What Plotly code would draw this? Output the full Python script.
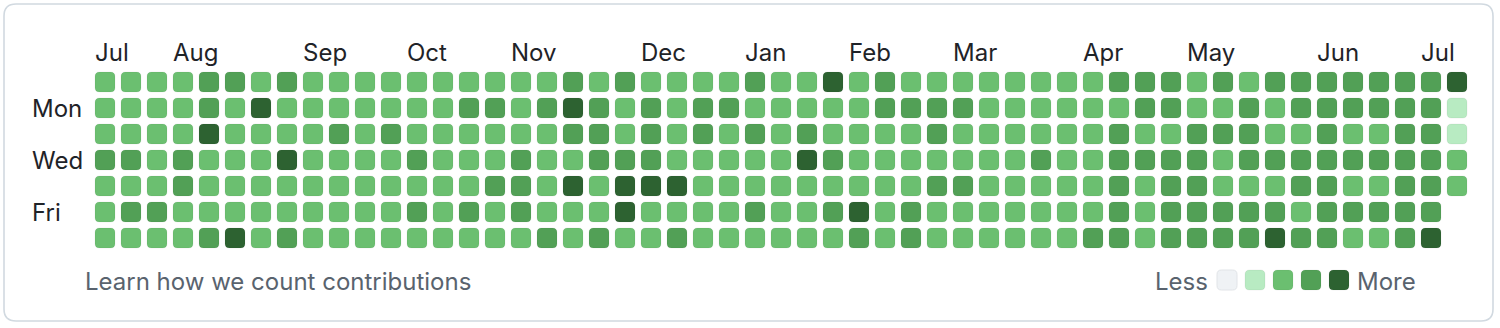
import plotly.graph_objects as go

# ---------------- data ----------------
months = ["Jul", "Aug", "Sep", "Oct", "Nov", "Dec", "Jan", "Feb", "Mar", "Apr", "May", "Jun", "Jul"]
month_weeks = [0, 3, 8, 12, 16, 21, 25, 29, 33, 38, 42, 47, 51]
day_labels = ["Mon", "Wed", "Fri"]
day_rows = [1, 3, 5]

# contribution level (0-4) per week, one list per weekday (Sun..Sat)
sun = [2,2,2,2,3,3,2,3,2,2,2,2,2,2, 2,2,2,2,3,2,3,2,2,2,2,3,2, 2,4,2,3,2,2,2,2,2,2,2,2,3, 3,3,2,3,2,3,3,3,3,3,3,3,4]
mon = [2,2,2,2,3,2,4,2,2,2,2,2,2,2, 3,3,2,3,4,3,2,3,2,3,3,2,2, 2,2,2,3,3,3,3,2,2,2,2,2,2, 3,3,2,2,3,2,3,3,3,3,3,3,1]
tue = [2,2,2,2,4,2,2,2,2,3,2,3,2,2, 2,2,2,2,3,3,2,3,2,3,2,3,2, 3,2,2,2,2,3,2,2,2,2,2,2,3, 2,2,3,3,3,2,2,3,2,2,3,3,1]
wed = [3,3,2,3,2,2,2,4,2,2,2,2,3,2, 2,2,3,2,2,3,3,3,2,2,2,2,2, 4,3,2,2,2,2,2,2,2,3,2,2,3, 3,3,3,2,3,3,3,3,3,3,3,3,2]
thu = [2,2,2,3,2,2,2,2,2,2,2,2,2,2, 2,3,3,2,4,2,4,4,4,2,2,2,2, 2,2,2,2,2,3,3,2,2,2,2,2,3, 2,3,3,2,2,2,3,3,2,2,3,3,2]
fri = [2,3,3,2,2,2,2,2,2,2,2,2,3,2, 3,2,3,2,2,2,4,2,2,2,2,3,2, 2,3,4,2,3,2,2,2,2,2,2,2,3, 2,3,3,3,3,3,2,3,3,3,3,3]
sat = [2,2,2,2,3,4,2,3,2,2,2,2,2,2, 2,2,2,3,2,3,2,2,3,2,2,2,2, 2,2,3,2,3,2,2,2,2,2,2,3,3, 2,3,3,3,3,4,3,3,2,2,3,4]
levels_by_day = [sun, mon, tue, wed, thu, fri, sat]

palette = ["#eff2f5", "#b8ebc2", "#6bbf70", "#52a056", "#2d6231"]
legend_levels = [0, 1, 2, 3, 4]

# ---------------- geometry (1 data unit = 26 px) ----------------
W, H = 1500, 328
U = 26.0
X0 = -105 / U      # data x at pixel 0
Y0 = -82 / U       # data y at pixel 0


def px2x(p):
    return X0 + p / U


def py2y(p):
    return Y0 + p / U


def rrect(x0, y0, x1, y1, r):
    return (f"M {x0 + r},{y0} L {x1 - r},{y0} Q {x1},{y0} {x1},{y0 + r} "
            f"L {x1},{y1 - r} Q {x1},{y1} {x1 - r},{y1} L {x0 + r},{y1} "
            f"Q {x0},{y1} {x0},{y1 - r} L {x0},{y0 + r} Q {x0},{y0} {x0 + r},{y0} Z")


half = 10 / U
rad = 4.5 / U
shapes = []

# outer rounded border
shapes.append(dict(type="path", xref="x", yref="y",
                   path=rrect(px2x(4), py2y(4), px2x(1493), py2y(321), 12 / U),
                   line=dict(color="#d1d9e0", width=1.6), fillcolor="rgba(0,0,0,0)", layer="below"))

xs, ys, lv = [], [], []
for r, row in enumerate(levels_by_day):
    for k, level in enumerate(row):
        xs.append(k)
        ys.append(r)
        lv.append(level)
        shapes.append(dict(type="path", xref="x", yref="y",
                           path=rrect(k - half, r - half, k + half, r + half, rad),
                           fillcolor=palette[level],
                           line=dict(color="rgba(27,31,36,0.06)", width=1), layer="above"))

# legend squares
leg_cx = [1227, 1255, 1283, 1311, 1339]
for cx, level in zip(leg_cx, legend_levels):
    x = px2x(cx)
    y = py2y(280)
    shapes.append(dict(type="path", xref="x", yref="y",
                       path=rrect(x - half, y - half, x + half, y + half, rad),
                       fillcolor=palette[level],
                       line=dict(color="rgba(27,31,36,0.06)" if level else "#e1e4e8", width=1), layer="above"))

fig = go.Figure()
fig.add_trace(go.Scatter(x=xs, y=ys, mode="markers",
                         marker=dict(size=20, symbol="square", opacity=0),
                         customdata=lv, hovertemplate="Level %{customdata}<extra></extra>",
                         showlegend=False))

FONT = "Inter, Roboto, sans-serif"
FS = 24
annotations = []
for m, k in zip(months, month_weeks):
    annotations.append(dict(x=k - half - 2.5 / U, y=py2y(52), xref="x", yref="y", text=m,
                            showarrow=False, xanchor="left", yanchor="middle",
                            font=dict(family=FONT, size=FS, color="#1f2328")))
for d, r in zip(day_labels, day_rows):
    annotations.append(dict(x=px2x(30), y=r, xref="x", yref="y", text=d,
                            showarrow=False, xanchor="left", yanchor="middle",
                            font=dict(family=FONT, size=FS, color="#1f2328")))
annotations.append(dict(x=px2x(83), y=py2y(281), xref="x", yref="y",
                        text="Learn how we count contributions", showarrow=False,
                        xanchor="left", yanchor="middle",
                        font=dict(family=FONT, size=FS, color="#59636e")))
annotations.append(dict(x=px2x(1210), y=py2y(281), xref="x", yref="y", text="Less",
                        showarrow=False, xanchor="right", yanchor="middle",
                        font=dict(family=FONT, size=FS, color="#59636e")))
annotations.append(dict(x=px2x(1355), y=py2y(281), xref="x", yref="y", text="More",
                        showarrow=False, xanchor="left", yanchor="middle",
                        font=dict(family=FONT, size=FS, color="#59636e")))

fig.update_layout(
    width=W, height=H,
    margin=dict(l=0, r=0, t=0, b=0, pad=0),
    paper_bgcolor="white", plot_bgcolor="white",
    xaxis=dict(range=[px2x(0), px2x(W)], visible=False, fixedrange=True),
    yaxis=dict(range=[py2y(H), py2y(0)], visible=False, fixedrange=True),
    shapes=shapes, annotations=annotations,
    hovermode="closest",
)

fig.write_html("out.html")
